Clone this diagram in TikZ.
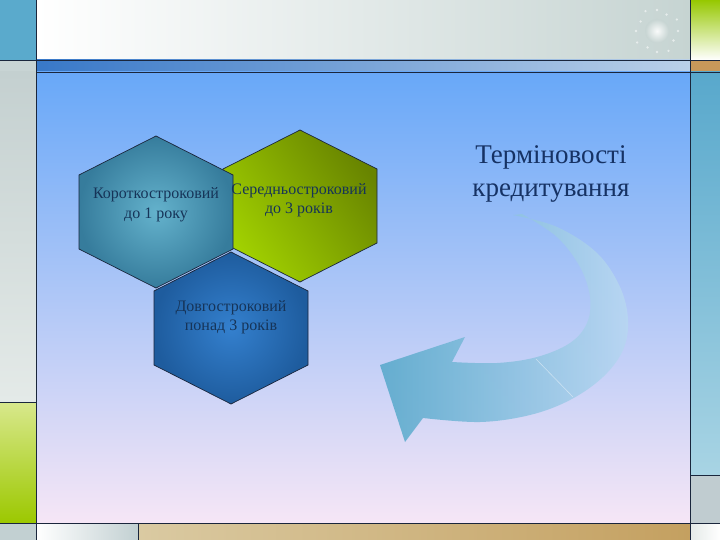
\documentclass[tikz,border=0pt]{standalone}
\usepackage{fontspec}
\setmainfont{Liberation Serif}
\definecolor{lineC}{RGB}{26,38,60}
\definecolor{topL}{RGB}{255,255,255}
\definecolor{topR}{RGB}{198,212,210}
\definecolor{bandL}{RGB}{56,120,200}
\definecolor{bandR}{RGB}{186,208,232}
\definecolor{mainT}{RGB}{104,168,248}
\definecolor{mainM}{RGB}{168,202,240}
\definecolor{mainB}{RGB}{246,230,246}
\definecolor{lcBlue}{RGB}{90,170,204}
\definecolor{lcGray}{RGB}{200,212,212}
\definecolor{lcG1}{RGB}{196,208,208}
\definecolor{lcG2}{RGB}{228,234,232}
\definecolor{lcGr1}{RGB}{216,232,140}
\definecolor{lcGr2}{RGB}{156,200,0}
\definecolor{lcBot}{RGB}{194,208,210}
\definecolor{rcGr}{RGB}{150,200,0}
\definecolor{rcTan}{RGB}{200,152,90}
\definecolor{rcB1}{RGB}{88,168,204}
\definecolor{rcB2}{RGB}{168,212,228}
\definecolor{rcGray}{RGB}{192,204,208}
\definecolor{btTan1}{RGB}{218,202,162}
\definecolor{btTan2}{RGB}{196,160,96}
\definecolor{hexLin}{RGB}{100,178,204}
\definecolor{hexLout}{RGB}{54,124,156}
\definecolor{hexGdark}{RGB}{104,132,0}
\definecolor{hexGlight}{RGB}{162,210,0}
\definecolor{hexBin}{RGB}{52,128,206}
\definecolor{hexBout}{RGB}{30,92,158}
\definecolor{hexText}{RGB}{22,52,88}
\definecolor{titleC}{RGB}{22,50,100}
\definecolor{arrDark}{RGB}{96,172,206}
\definecolor{arrLight}{RGB}{184,214,242}
\tikzset{
  hexbox/.style={draw=lineC, line width=0.7pt},
  hextext/.style={align=center, text=hexText, font=\fontsize{16}{19.5}\selectfont, inner sep=0pt},
  divline/.style={draw=lineC, line width=0.9pt}
}
\newcommand{\hexpath}[2]{(#1,#2-76) -- (#1+77,#2-37) -- (#1+77,#2+37) -- (#1,#2+76) -- (#1-77,#2+37) -- (#1-77,#2-37) -- cycle}
\begin{document}
\begin{tikzpicture}[x=1pt,y=-1pt]
\useasboundingbox (0,0) rectangle (720,540);
% top strip
\shade[left color=topL, right color=topR] (36,0) rectangle (690,60);
% band
\shade[left color=bandL, right color=bandR] (36,60) rectangle (690,72);
% main area
\shade[top color=mainT, middle color=mainM, bottom color=mainB] (36,72) rectangle (690,523);
% left column
\fill[lcBlue] (0,0) rectangle (36,60);
\fill[lcGray] (0,60) rectangle (36,72);
\shade[top color=lcG1, bottom color=lcG2] (0,72) rectangle (36,402);
\shade[top color=lcGr1, bottom color=lcGr2] (0,402) rectangle (36,523);
\fill[lcBot] (0,523) rectangle (36,540);
% right column
\shade[top color=rcGr, bottom color=white] (690,0) rectangle (720,60);
\fill[rcTan] (690,60) rectangle (720,72);
\shade[top color=rcB1, bottom color=rcB2] (690,72) rectangle (720,475);
\fill[rcGray] (690,475) rectangle (720,523);
\shade[left color=lcG2, right color=white] (690,523) rectangle (720,540);
% bottom row
\shade[left color=white, right color=lcBot] (36,523) rectangle (138,540);
\shade[left color=btTan1, right color=btTan2] (138,523) rectangle (690,540);
% sparkle
\shade[inner color=white, outer color=topR, opacity=0.9] (657,31) circle (12);
\foreach \a/\r in {0/21,30/19,60/23,90/21,120/19,150/23,180/21,210/19,240/23,270/21,300/19,330/23}
  \fill[white, opacity=0.55] (657,31) ++(\a:\r) circle (1.3);
% divider lines
\draw[divline] (36,0) -- (36,540);
\draw[divline] (690,0) -- (690,540);
\draw[divline] (0,60) -- (720,60);
\draw[divline] (36,72) -- (720,72);
\draw[divline] (0,523) -- (720,523);
\draw[divline] (0,402) -- (36,402);
\draw[divline] (690,475) -- (720,475);
\draw[divline] (138,523) -- (138,540);
% hexagons
\shade[hexbox, top color=hexGdark, middle color=hexGlight, bottom color=hexGlight, shading angle=-55] \hexpath{300}{206};
\shade[hexbox, inner color=hexLin, outer color=hexLout] \hexpath{156}{212};
\shade[hexbox, inner color=hexBin, outer color=hexBout] \hexpath{231}{328};
\node[hextext] (mid) at (299,200) {Середньостроковий\\до 3 років};
\node[hextext] (short) at (156,205) {Короткостроковий\\до 1 року};
\node[hextext] (long) at (231,317) {Довгостроковий\\понад 3 років};
% title
\node[align=center, text=titleC, font=\fontsize{27}{33}\selectfont, inner sep=0pt] (title) at (551,174) {Терміновості\\кредитування};
% curved arrow
\shade[left color=arrDark, right color=arrLight, opacity=0.95]
  plot[smooth, tension=0.6] coordinates {(513,215) (557,227) (597,253) (620,287) (628,320) (623,350) (603,377) (570,400) (530,415) (480,422) (423,418)}
  -- (405,442) -- (380,365) -- (465,337) --
  plot[smooth, tension=0.6] coordinates {(452,362) (497,363) (537,357) (570,343) (587,323) (590,297) (580,267) (557,237) (522,214)}
  -- cycle;
\draw[white, opacity=0.45, line width=0.6pt] (536,359) -- (573,397);
\end{tikzpicture}
\end{document}
